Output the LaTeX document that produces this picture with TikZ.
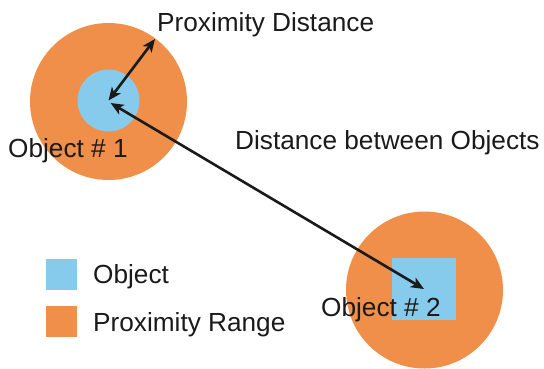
\documentclass[tikz,border=0pt]{standalone}
\usepackage{fontspec}
\setmainfont{Liberation Sans}
\usetikzlibrary{arrows.meta}
\definecolor{rangeorange}{RGB}{239,143,74}
\definecolor{objblue}{RGB}{134,202,236}
\definecolor{ink}{RGB}{26,26,26}
\tikzset{
  rangedisc/.style={circle, fill=rangeorange, draw=none, minimum size=157pt, inner sep=0pt},
  objdisc/.style={circle, fill=objblue, draw=none, minimum size=62pt, inner sep=0pt},
  objsquare/.style={rectangle, fill=objblue, draw=none, minimum width=64pt, minimum height=62pt, inner sep=0pt},
  swatch/.style={rectangle, draw=none, minimum size=31pt, inner sep=0pt},
  lbl/.style={anchor=base west, inner sep=0pt, text=ink, font=\fontsize{26.2}{30}\selectfont},
  measure/.style={draw=ink, line width=2.6pt, {Stealth[length=13pt,width=11pt,inset=3.5pt]}-{Stealth[length=13pt,width=11pt,inset=3.5pt]}},
}
\begin{document}
\begin{tikzpicture}[x=1pt,y=-1pt]
\useasboundingbox (0,0) rectangle (544,368);
% object 1 with its proximity range
\node[rangedisc] (range1) at (108.5,101.5) {};
\node[objdisc] (obj1) at (108.5,100.5) {};
% object 2 with its proximity range
\node[rangedisc] (range2) at (424.5,290) {};
\node[objsquare] (obj2) at (424,289) {};
% labels
\node[lbl] (lab1) at (8,157) {Object \# 1};
\node[lbl] (lab2) at (321,316) {Object \# 2};
\node[lbl] (labpd) at (157,31) {Proximity Distance};
\node[lbl] (labdb) at (235,149) {Distance between Objects};
% distance arrows
\coordinate (pdend) at (155,39);
\draw[measure] (obj1.center) -- (pdend);
\draw[measure, shorten <=-1pt] ([shift={(3,3)}]obj1.center) -- (obj2.center);
% legend
\node[swatch, fill=objblue] (keyobj) at (61.5,274) {};
\node[swatch, fill=rangeorange] (keyrange) at (61.5,321.5) {};
\node[lbl] (keyobjlab) at (93,283) {Object};
\node[lbl] (keyrangelab) at (93,331) {Proximity Range};
\end{tikzpicture}
\end{document}
